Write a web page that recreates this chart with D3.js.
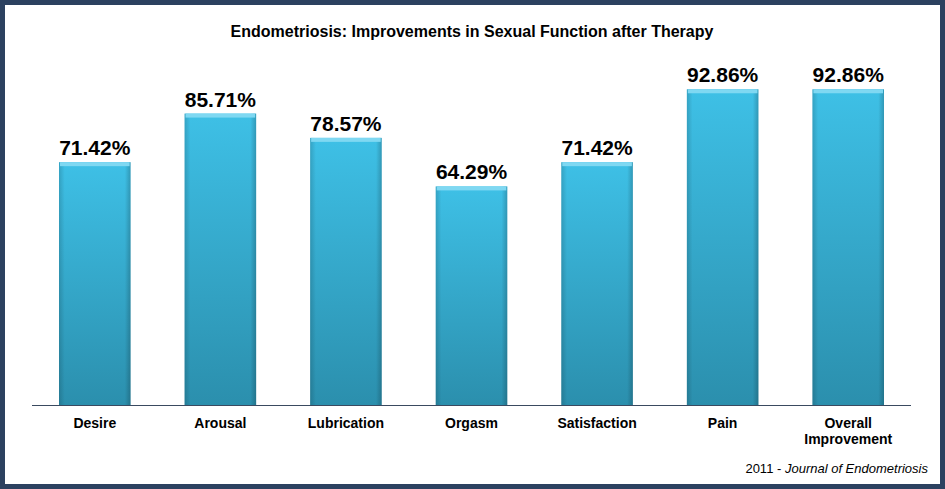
<!DOCTYPE html>
<html><head><meta charset="utf-8">
<script src="https://cdn.jsdelivr.net/npm/d3@7"></script>
<style>body{margin:0;background:#fff}svg{display:block;font-family:"Liberation Sans",Arial,sans-serif}</style>
</head><body><svg id="chart" width="945" height="489"></svg>
<script>
// Chart data
const categories = ['Desire', 'Arousal', 'Lubrication', 'Orgasm', 'Satisfaction', 'Pain', 'Overall Improvement'];
const values = [71.42, 85.71, 78.57, 64.29, 71.42, 92.86, 92.86];
const valueLabels = ['71.42%', '85.71%', '78.57%', '64.29%', '71.42%', '92.86%', '92.86%'];

const svg = d3.select('#chart');

// Frame
svg.append('rect').attr('x', 2.5).attr('y', 2.5).attr('width', 940).attr('height', 484)
    .attr('fill', '#fff').attr('stroke', '#2c4160').attr('stroke-width', 5);

const defs = svg.append('defs');
const grad = defs.append('linearGradient').attr('id', 'barGrad').attr('x1', 0).attr('y1', 0).attr('x2', 0).attr('y2', 1);
grad.append('stop').attr('offset', '0%').attr('stop-color', '#3ec0e6');
grad.append('stop').attr('offset', '100%').attr('stop-color', '#2b8fad');
const side = defs.append('linearGradient').attr('id', 'sideGrad').attr('x1', 0).attr('y1', 0).attr('x2', 1).attr('y2', 0);
side.append('stop').attr('offset', '0%').attr('stop-color', '#000').attr('stop-opacity', 0.15);
side.append('stop').attr('offset', '8%').attr('stop-color', '#000').attr('stop-opacity', 0);
side.append('stop').attr('offset', '92%').attr('stop-color', '#000').attr('stop-opacity', 0);
side.append('stop').attr('offset', '100%').attr('stop-color', '#000').attr('stop-opacity', 0.2);

const x = d3.scaleBand().domain(categories).range([32, 911]).paddingInner(0.43).paddingOuter(0.215);
const y = d3.scaleLinear().domain([0, 100]).range([405, 65]);

// Title
svg.append('text').attr('x', 472).attr('y', 37).attr('text-anchor', 'middle')
    .style('font-size', '16px').style('font-weight', 'bold').text('Endometriosis: Improvements in Sexual Function after Therapy');

const bars = svg.append('g').selectAll('g').data(categories).join('g');
bars.append('rect').attr('x', d => x(d)).attr('y', (d, i) => y(values[i]))
    .attr('width', x.bandwidth()).attr('height', (d, i) => y(0) - y(values[i]))
    .attr('fill', 'url(#barGrad)');
bars.append('rect').attr('x', d => x(d)).attr('y', (d, i) => y(values[i]))
    .attr('width', x.bandwidth()).attr('height', (d, i) => y(0) - y(values[i]))
    .attr('fill', 'url(#sideGrad)');
bars.append('rect').attr('x', d => x(d) + 1).attr('y', (d, i) => y(values[i]))
    .attr('width', x.bandwidth() - 2).attr('height', 4).attr('fill', '#7fd8f2');
bars.append('text').attr('x', d => x(d) + x.bandwidth() / 2).attr('y', (d, i) => y(values[i]) - 7)
    .attr('text-anchor', 'middle').style('font-size', '21px').style('font-weight', 'bold')
    .text((d, i) => valueLabels[i]);

// Axis
svg.append('line').attr('x1', 32).attr('x2', 911).attr('y1', y(0) + 0.5).attr('y2', y(0) + 0.5)
    .attr('stroke', '#3a4a60').attr('stroke-width', 1);
const xAxis = svg.append('g').attr('transform', `translate(0,${y(0)})`)
    .call(d3.axisBottom(x).tickSize(0).tickFormat(''));
xAxis.select('.domain').remove();
svg.append('g').selectAll('text').data(categories).join('text')
    .attr('x', d => x(d) + x.bandwidth() / 2).attr('y', 428).attr('text-anchor', 'middle')
    .style('font-size', '14px').style('font-weight', 'bold')
    .each(function (d) {
        const words = d.split(' ');
        d3.select(this).selectAll('tspan').data(words).join('tspan')
            .attr('x', x(d) + x.bandwidth() / 2).attr('dy', (w, j) => j ? 16 : 0).text(w => w);
    });

// Source
const src = svg.append('text').attr('x', 928).attr('y', 473).attr('text-anchor', 'end').style('font-size', '13px');
src.append('tspan').text('2011 - ');
src.append('tspan').style('font-style', 'italic').text('Journal of Endometriosis');
</script></body></html>
